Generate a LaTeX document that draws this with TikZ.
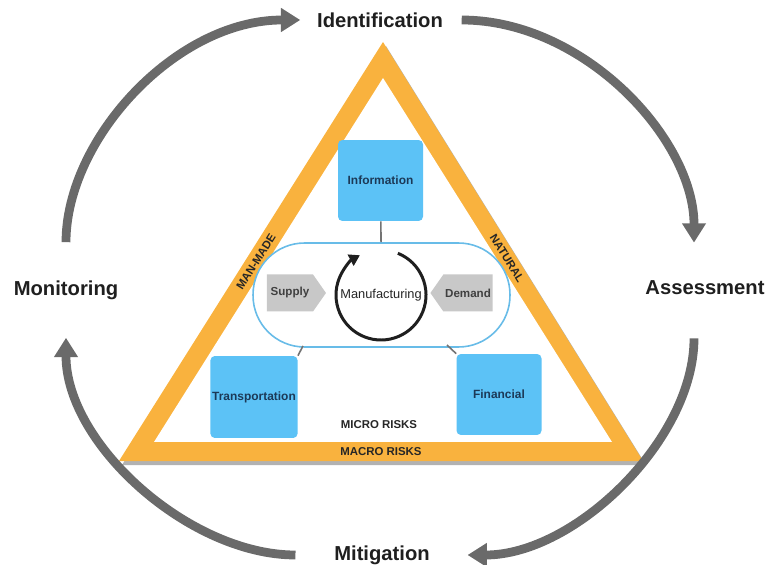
\documentclass[tikz,border=0pt]{standalone}
\usepackage{fontspec}
\setmainfont{Liberation Sans}
\usetikzlibrary{arrows.meta,positioning,shapes.symbols}
\definecolor{riskorange}{HTML}{F9B23E}
\definecolor{riskblue}{HTML}{5CC2F6}
\definecolor{risknavy}{HTML}{1C3957}
\definecolor{cyclegray}{HTML}{6A6A6A}
\definecolor{tabgray}{HTML}{C8C8C8}
\definecolor{pillblue}{HTML}{68BCE8}
\tikzset{stage/.style={inner sep=0pt, text=black!88, font=\fontsize{11.5}{13}\selectfont\bfseries},
	flow/.style={draw=cyclegray, line width=5pt, -{Triangle[length=11pt,width=13pt]}},
	riskbox/.style={fill=riskblue, rounded corners=2.5pt, minimum width=1.7cm, minimum height=1.62cm,
		inner sep=1pt, text=risknavy, font=\fontsize{6.8}{8}\selectfont\bfseries},
	sidetab/.style={signal, fill=tabgray, signal pointer angle=110, minimum height=0.74cm,
		minimum width=1.18cm, inner sep=1pt, text=black!75, font=\fontsize{6.6}{8}\selectfont\bfseries},
	tie/.style={draw=black!55, line width=0.9pt}}
\tikzstyle{bandtext}=[inner sep=0pt, text=black!85, font=\fontsize{6.5}{8}\selectfont\bfseries]

\begin{document}
\begin{tikzpicture}[x=0.02cm, y=0.02cm]
	\useasboundingbox (0,0) rectangle (766,564);
	\coordinate (apex) at (383,522);
	\coordinate (left) at (119,103);
	\coordinate (right) at (643,103);
	\fill[black!30] ([shift={(3,-4)}]apex) -- ([shift={(3,-4)}]left) -- ([shift={(3,-4)}]right) -- cycle;
	\fill[riskorange] (apex) -- (left) -- (right) -- cycle;
	\fill[white] (383,486) -- (154,122) -- (612,122) -- cycle;
	
	\node[bandtext, rotate=57.8] (manmade) at (256,302) {MAN-MADE};
	\node[bandtext, rotate=-57.9] (natural) at (507,306) {NATURAL};
	\node[bandtext] (macro) at (381,112) {MACRO RISKS};
	\node[bandtext] (micro) at (379,139) {MICRO RISKS};
	
	\node[draw=pillblue, line width=0.9pt, fill=white, rounded corners=1.03cm,
		minimum width=5.14cm, minimum height=2.08cm] (pill) at (381.5,269) {};
	\node[inner sep=0pt, text=black!85, font=\fontsize{7.3}{9}\selectfont] (mfg) at (381,269) {Manufacturing};
	\draw[black!88, line width=1.7pt, -{Triangle[length=6pt,width=7pt]}]
		(mfg.center) ++(68:45) arc[start angle=68, end angle=-242, radius=45];
	\node[sidetab, signal to=east] (supply) at (290,271) {Supply};
	\node[sidetab, signal to=west] (demand) at (468,271) {Demand};
	
	\node[riskbox] (info) at (380.5,383.5) {Information};
	\node[riskbox, minimum height=1.64cm] (trans) at (254,167) {Transportation};
	\node[riskbox] (fin) at (499,169.5) {Financial};
	\coordinate (pillsw) at (303,218);
	\coordinate (pillse) at (447,219);
	\draw[tie] (info) -- (pill);
	\draw[tie] (trans.north east) -- (pillsw);
	\draw[tie] (fin.north west) -- (pillse);
	
	\node[stage] (ident) at (380,544) {Identification};
	\node[stage] (assess) at (705,276) {Assessment};
	\node[stage] (mitig) at (382,9) {Mitigation};
	\node[stage] (mon) at (66,274) {Monitoring};
	\draw[flow, shorten <=0.76cm, shorten >=0.33cm] (mon) to[out=90, in=180] (ident);
	\draw[flow, shorten <=0.37cm, shorten >=0.76cm] (ident) to[out=0, in=90] ([xshift=-0.22cm]assess.north);
	\draw[flow, shorten <=0.86cm, shorten >=0.75cm] ([xshift=-0.22cm]assess.south) to[out=270, in=0] (mitig);
	\draw[flow, shorten <=0.77cm, shorten >=0.76cm] (mitig) to[out=180, in=270] (mon);
\end{tikzpicture}
\end{document}
